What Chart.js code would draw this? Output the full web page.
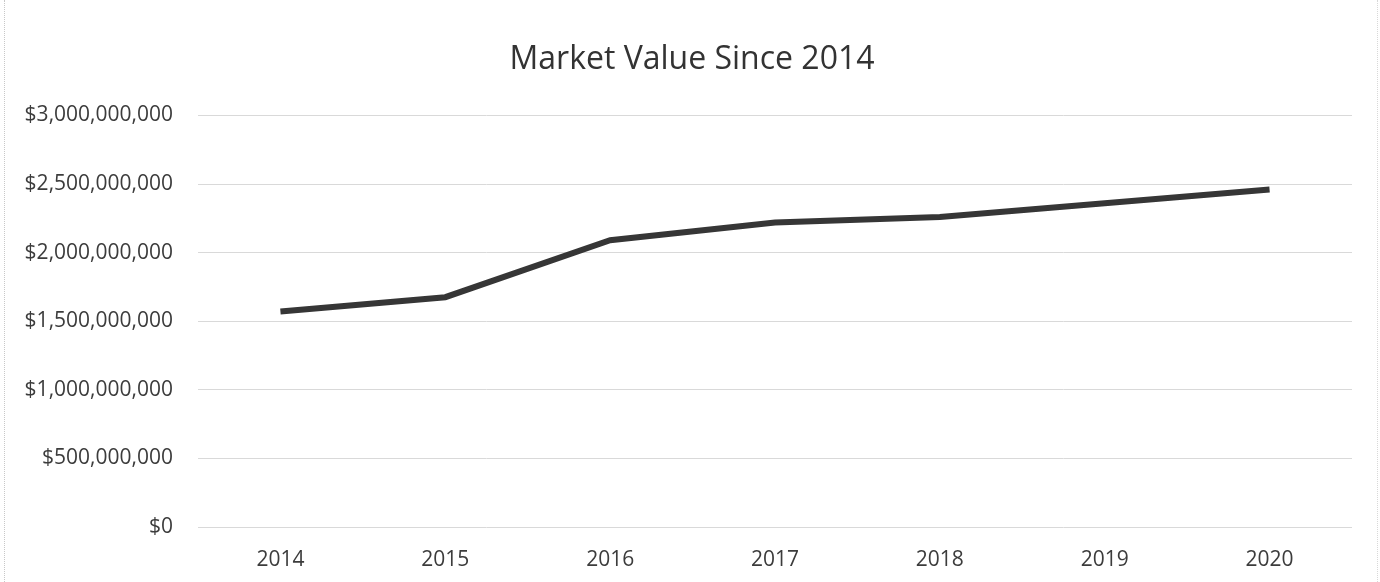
<!DOCTYPE html>
<html>
<head>
<meta charset="utf-8">
<script src="https://cdn.jsdelivr.net/npm/chart.js@4"></script>
<style>
  html, body { margin: 0; padding: 0; background: #fff; }
  #wrap { width: 1380px; height: 582px; position: relative; }
  /* faint frame around the chart */
  #wrap::after {
    content: '';
    position: absolute;
    left: 4px; right: 2px; top: 0; bottom: 0;
    border-left: 1px dotted #c8c8c8;
    border-right: 1px dotted #d8d8d8;
    pointer-events: none;
  }
</style>
</head>
<body>
<div id="wrap"><canvas id="marketChart"></canvas></div>
<script>
// market value by year
const years = ['2014', '2015', '2016', '2017', '2018', '2019', '2020'];
const marketValues = [1570000000, 1675000000, 2090000000, 2220000000, 2260000000, 2360000000, 2460000000];
const yTicks = [0, 500000000, 1000000000, 1500000000, 2000000000, 2500000000, 3000000000];

Chart.defaults.font.family = '"Open Sans", sans-serif';
Chart.defaults.color = '#3c3c3c';

const dollars = v => '$' + Number(v).toLocaleString('en-US');

// centre the title on the whole canvas rather than on the padded box
const centreTitle = {
    id: 'centreTitle',
    afterLayout(chart) {
        const t = chart.titleBlock;
        if (!t) return;
        t.left = 4;
        t.right = chart.width;
        t.width = t.right - t.left;
    }
};

const context = document.getElementById('marketChart').getContext('2d');
new Chart(context, {
    type: 'line',
    data: {
        labels: years,
        datasets: [{
            label: 'Market Value',
            data: marketValues,
            borderColor: '#363636',
            borderWidth: 6,
            pointRadius: 0,
            tension: 0,
            fill: false
        }]
    },
    options: {
        responsive: true,
        maintainAspectRatio: false,
        animation: false,
        layout: { padding: { left: 0, right: 28, top: 0, bottom: 0 } },
        plugins: {
            legend: { display: false },
            tooltip: { enabled: false },
            title: {
                display: true,
                text: 'Market Value Since 2014',
                color: '#333',
                font: { size: 32, weight: 'normal' },
                padding: { top: 41, bottom: 36 }
            }
        },
        scales: {
            x: {
                offset: true,
                grid: { display: false, drawTicks: false },
                border: { display: false },
                afterFit: axis => { axis.height = 55; },
                ticks: { font: { size: 21 }, padding: 20, maxRotation: 0 }
            },
            y: {
                min: 0,
                max: 3000000000,
                afterBuildTicks: axis => { axis.ticks = yTicks.map(v => ({ value: v })); },
                afterFit: axis => { axis.width = 198; },
                grid: { color: '#d9d9d9', lineWidth: 1, drawTicks: false },
                border: { display: false },
                ticks: { font: { size: 21 }, padding: 25, callback: v => dollars(v) }
            }
        }
    },
    plugins: [centreTitle]
});
</script>
</body>
</html>
